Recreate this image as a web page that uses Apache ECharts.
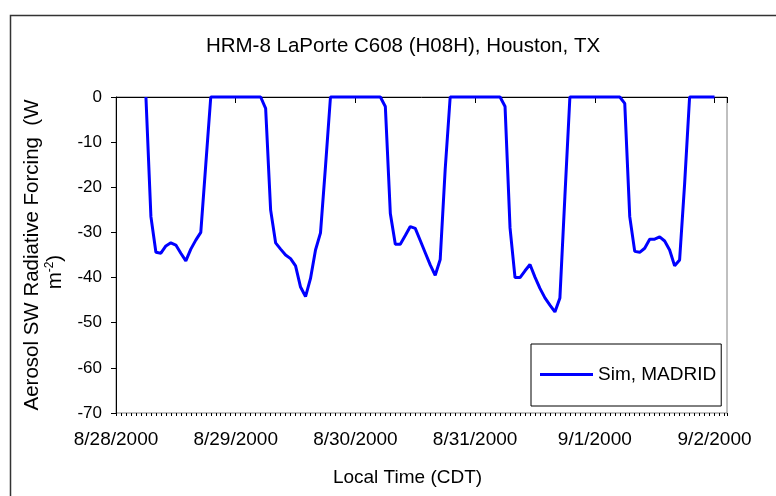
<!DOCTYPE html>
<html>
<head>
<meta charset="utf-8">
<script src="https://cdn.jsdelivr.net/npm/echarts@6/dist/echarts.min.js"></script>
<style>
html,body{margin:0;padding:0;background:#fff;}
#chart{width:776px;height:496px;}
</style>
</head>
<body>
<div id="chart"></div>
<script>
// Hours since 8/28/2000 00:00 CDT of the first value
var startHour = 6;
// Hourly aerosol SW radiative forcing (W m-2), Sim, MADRID
var forcing = [
  0, -26.5, -34.4, -34.6, -33.0, -32.3, -32.8, -34.6, -36.3, -33.7, -31.7, -30.0, -15.0, 0,
  0, 0, 0, 0, 0, 0, 0, 0, 0, 0,
  -2.5, -25.0, -32.3, -33.7, -35.0, -35.8, -37.4, -42.1, -44.2, -40.2, -33.9, -30.1, -15.4, 0,
  0, 0, 0, 0, 0, 0, 0, 0, 0, 0,
  -2.1, -25.8, -32.6, -32.6, -30.7, -28.7, -29.1, -31.8, -34.5, -37.2, -39.5, -36.0, -16.0, 0,
  0, 0, 0, 0, 0, 0, 0, 0, 0, 0,
  -2.1, -29.0, -40.0, -40.0, -38.5, -37.1, -39.9, -42.4, -44.5, -46.1, -47.6, -44.5, -22.0, 0,
  0, 0, 0, 0, 0, 0, 0, 0, 0, 0,
  -1.4, -26.5, -34.2, -34.4, -33.5, -31.5, -31.5, -31.0, -31.9, -33.9, -37.4, -36.1, -19.3, 0,
  0, 0, 0, 0, 0
];
var dateLabels = ['8/28/2000', '8/29/2000', '8/30/2000', '8/31/2000', '9/1/2000', '9/2/2000'];
var yTicks = [0, -10, -20, -30, -40, -50, -60, -70];
var titleText = 'HRM-8 LaPorte C608 (H08H), Houston, TX';
var seriesName = 'Sim, MADRID';
var xName = 'Local Time (CDT)';

var FONT = "'Liberation Sans', Arial, sans-serif";
var chart = echarts.init(document.getElementById('chart'), null, {renderer: 'canvas'});
var seriesData = forcing.map(function (v, i) { return [startHour + i, v]; });

chart.setOption({
  animation: false,
  backgroundColor: '#fff',
  textStyle: {fontFamily: FONT},
  title: {
    text: titleText, left: 398, top: 31, textAlign: 'center',
    textStyle: {fontFamily: FONT, fontSize: 20.5, fontWeight: 'normal', color: '#000'}
  },
  graphic: [{
    type: 'rect', shape: {x: 10.5, y: 15.5, width: 900, height: 700},
    style: {fill: 'none', stroke: '#333', lineWidth: 1.5}, silent: true, z: -1
  }],
  grid: {left: 116, top: 97, right: 49, bottom: 83, show: true, borderColor: '#808080', borderWidth: 1, backgroundColor: 'transparent'},
  legend: {
    left: 531, top: 344, orient: 'horizontal',
    data: [{name: seriesName, icon: 'rect'}],
    backgroundColor: '#fff', borderColor: '#000', borderWidth: 1, borderRadius: 0,
    padding: [21, 5, 22, 9],
    itemWidth: 53, itemHeight: 3,
    textStyle: {fontFamily: FONT, fontSize: 19, color: '#000'}
  },
  xAxis: [{
    type: 'value', min: 0, max: 122.5, interval: 24,
    name: xName, nameLocation: 'middle', nameGap: 55,
    nameTextStyle: {fontFamily: FONT, fontSize: 19, color: '#000', padding: [0, 28, 0, 0]},
    axisLine: {show: true, lineStyle: {color: '#000', width: 1}},
    axisTick: {show: true, length: 6, inside: false, lineStyle: {color: '#000'}},
    axisLabel: {
      margin: 17, fontFamily: FONT, fontSize: 19, color: '#000',
      formatter: function (v) { return (v % 24 === 0) ? dateLabels[v / 24] : ''; }
    },
    splitLine: {show: false}
  }, {
    type: 'value', min: 0, max: 122.5, interval: 1, position: 'bottom',
    axisLine: {show: false},
    axisTick: {show: true, length: 3, lineStyle: {color: '#000'}},
    axisLabel: {show: false},
    splitLine: {show: false}
  }],
  yAxis: {
    type: 'value', min: yTicks[yTicks.length - 1], max: yTicks[0], interval: 10,
    name: 'Aerosol SW Radiative Forcing  (W\n{n|m}{s|-2}{n|)      }',
    nameLocation: 'middle', nameGap: 49, nameRotate: 90,
    nameTextStyle: {
      fontFamily: FONT, fontSize: 20.5, color: '#000', lineHeight: 23, align: 'center',
      rich: {
        n: {fontFamily: FONT, fontSize: 20.5, color: '#000'},
        s: {fontFamily: FONT, fontSize: 12, color: '#000', verticalAlign: 'top', padding: [0, 0, 7, 0]}
      }
    },
    axisLine: {show: true, lineStyle: {color: '#000', width: 1}},
    axisTick: {show: true, length: 5, lineStyle: {color: '#000'}},
    axisLabel: {margin: 14, fontFamily: FONT, fontSize: 17, color: '#000'},
    splitLine: {show: false}
  },
  series: [{
    name: seriesName, type: 'line', xAxisIndex: 0,
    data: seriesData,
    symbol: 'none', showSymbol: false,
    lineStyle: {color: '#0000FF', width: 3},
    itemStyle: {color: '#0000FF'},
    clip: false
  }]
});
</script>
</body>
</html>
